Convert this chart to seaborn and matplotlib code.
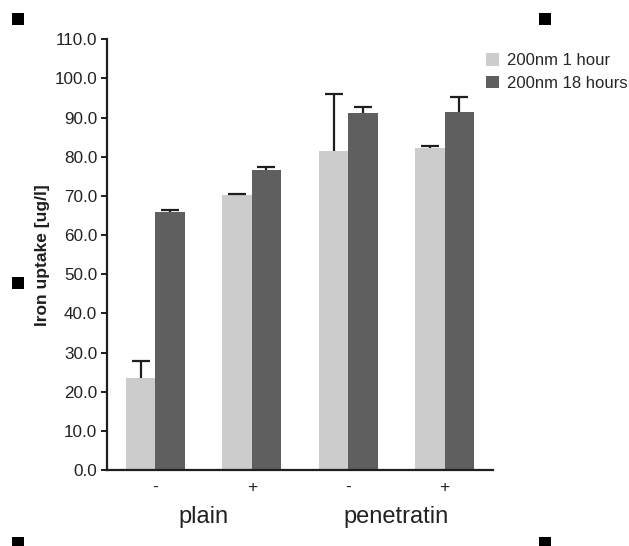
import matplotlib
matplotlib.use("Agg")
import matplotlib.pyplot as plt
import matplotlib.transforms as mtransforms
from matplotlib.patches import Patch, Rectangle
import numpy as np
import pandas as pd
import seaborn as sns

# ---- data ----
groups = ["plain", "plain", "penetratin", "penetratin"]
treatments = ["-", "+", "-", "+"]
series = ["200nm 1 hour", "200nm 18 hours"]
vals_1h = [23.6, 70.2, 81.4, 82.3]
err_1h = [4.2, 0.4, 14.6, 0.5]
vals_18h = [65.8, 76.5, 91.3, 91.5]
err_18h = [0.7, 0.9, 1.3, 3.8]
y_ticks = [0, 10, 20, 30, 40, 50, 60, 70, 80, 90, 100, 110]
y_label = "Iron uptake [ug/l]"

conditions = [f"{g} {t}" for g, t in zip(groups, treatments)]
df = pd.DataFrame({
    "condition": conditions * 2,
    "series": [series[0]] * 4 + [series[1]] * 4,
    "value": vals_1h + vals_18h,
})
errs = {series[0]: err_1h, series[1]: err_18h}

sns.set_theme(style="white")
plt.rcParams["font.family"] = ["Liberation Sans", "DejaVu Sans"]

W, H = 629, 546
fig = plt.figure(figsize=(W / 100, H / 100), dpi=100)
ax = fig.add_axes([107 / W, 1 - 470 / H, (493 - 107) / W, (470 - 39.3) / H])

colors = ["#cccccc", "#5f5f5f"]
sns.barplot(data=df, x="condition", y="value", hue="series", order=conditions,
            hue_order=series, palette=colors, width=0.61, errorbar=None,
            linewidth=0, saturation=1, legend=False, ax=ax)

for cont, s in zip(ax.containers, series):
    xs = [b.get_x() + b.get_width() / 2 for b in cont]
    ys = [b.get_height() for b in cont]
    e = errs[s]
    _, caps, _ = ax.errorbar(xs, ys, yerr=[np.zeros(len(e)), e], fmt="none",
                             ecolor="#1e1e1e", elinewidth=1.6, capsize=6.5,
                             capthick=1.6, zorder=3)
    caps[0].set_visible(False)

ax.set_xlim(-0.5, len(conditions) - 0.5)
ax.set_ylim(0, 110)
ax.set_yticks(y_ticks)
ax.set_yticklabels([f"{v:.1f}" for v in y_ticks], fontsize=12.3, color="#222222")
ax.set_xticks(range(len(conditions)))
ax.set_xticklabels(treatments, fontsize=12.5, color="#222222")
ax.set_xticks(np.arange(-0.5, len(conditions), 1.0), minor=True)
ax.tick_params(axis="x", which="major", length=0, pad=7)
ax.tick_params(axis="x", which="minor", length=4, width=1.4, direction="out", color="#1e1e1e")
ax.tick_params(axis="y", length=4, width=1.4, direction="out", pad=3, color="#1e1e1e", left=True)
ax.set_xlabel("")
ax.set_ylabel(y_label, fontsize=12.5, fontweight="bold", labelpad=3, color="#1e1e1e")

for side in ["top", "right"]:
    ax.spines[side].set_visible(False)
for side in ["left", "bottom"]:
    ax.spines[side].set_linewidth(1.6)
    ax.spines[side].set_color("#1e1e1e")

# group labels
trans = mtransforms.blended_transform_factory(ax.transData, fig.transFigure)
group_names = []
for g in groups:
    if g not in group_names:
        group_names.append(g)
for g in group_names:
    idx = [i for i, gg in enumerate(groups) if gg == g]
    ax.text(np.mean(idx), 1 - 517 / H, g, transform=trans, ha="center", va="center",
            fontsize=17, color="#222222")

# legend
handles = [Patch(facecolor=c, edgecolor="none") for c in colors]
fig.legend(handles, series, loc="upper left", bbox_to_anchor=(486 / W, 1 - 53 / H),
           frameon=False, fontsize=12, handlelength=0.8, handleheight=0.8,
           handletextpad=0.45, labelspacing=0.45, borderpad=0, borderaxespad=0)

# selection handles of the original picture
for cx, cy in [(18, 19), (545, 19), (18, 283), (18, 543), (545, 543)]:
    fig.add_artist(Rectangle(((cx - 6) / W, 1 - (cy + 6) / H), 12 / W, 12 / H,
                             transform=fig.transFigure, facecolor="black",
                             edgecolor="none"))

fig.savefig("out.png", dpi=100)
